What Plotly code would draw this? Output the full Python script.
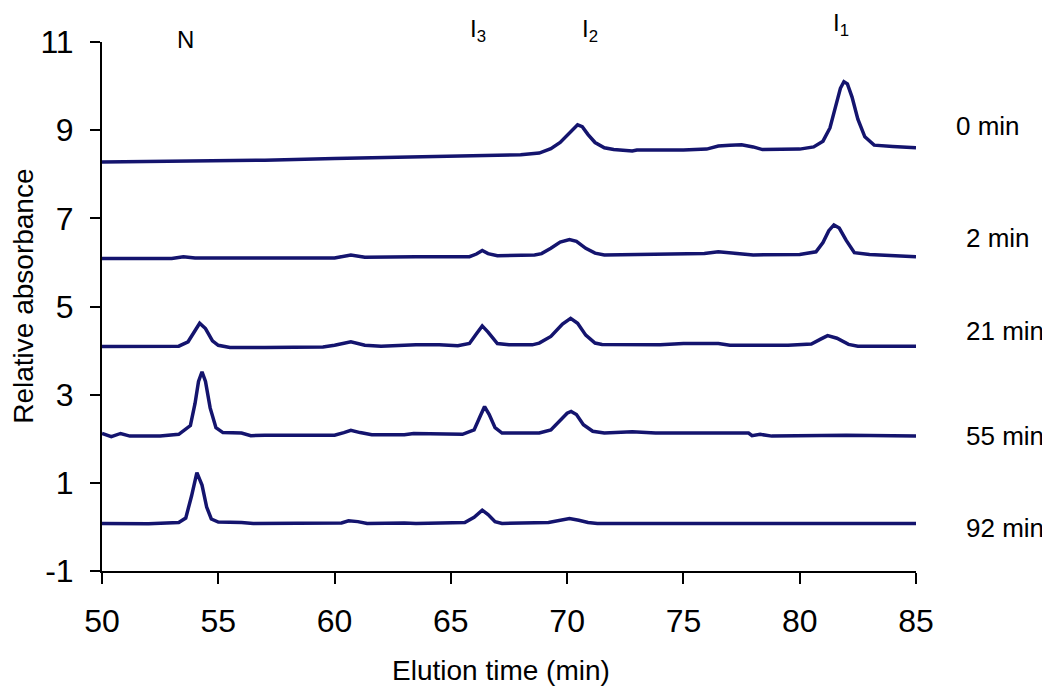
import plotly.graph_objects as go

# ---- data ----
t_0min = [50, 52.5, 55, 57, 60, 62.5, 65, 68, 68.8, 69.3, 69.7, 70.0, 70.25, 70.45, 70.65, 70.9, 71.2, 71.6,
          72.0, 72.5, 72.8, 73, 75, 76.0, 76.5, 77.0, 77.5, 78.0, 78.4, 80.0, 80.6, 81.0, 81.3, 81.55, 81.75,
          81.9, 82.05, 82.25, 82.5, 82.8, 83.2, 84, 85]
a_0min = [8.28, 8.29, 8.31, 8.32, 8.36, 8.38, 8.40, 8.44, 8.48, 8.58, 8.72, 8.88, 9.02, 9.12, 9.08, 8.90, 8.72, 8.60,
          8.56, 8.55, 8.53, 8.55, 8.55, 8.57, 8.64, 8.66, 8.67, 8.62, 8.56, 8.57, 8.62, 8.75, 9.05, 9.55, 9.95,
          10.10, 10.05, 9.75, 9.25, 8.85, 8.66, 8.63, 8.60]

t_2min = [50, 53.0, 53.5, 54.0, 55, 60.0, 60.7, 61.3, 63.5, 65.8, 66.1, 66.35, 66.6, 67.0, 68.6, 68.9, 69.3, 69.7,
          70.1, 70.4, 70.8, 71.2, 71.6, 75, 75.9, 76.5, 77.2, 78, 80.0, 80.7, 81.0, 81.25, 81.47, 81.7, 82.0,
          82.35, 83, 85]
a_2min = [6.09, 6.09, 6.13, 6.10, 6.10, 6.10, 6.17, 6.12, 6.13, 6.13, 6.19, 6.27, 6.20, 6.15, 6.17, 6.20, 6.32, 6.46,
          6.52, 6.48, 6.32, 6.21, 6.17, 6.18, 6.20, 6.24, 6.20, 6.17, 6.18, 6.24, 6.45, 6.72, 6.85, 6.78, 6.50,
          6.22, 6.18, 6.13]

t_21min = [50, 53.3, 53.7, 54.0, 54.2, 54.45, 54.75, 55.0, 55.5, 57, 58, 59.5, 60.0, 60.7, 61.3, 62, 63.5, 64.5,
           65.3, 65.8, 66.1, 66.35, 66.6, 67.0, 67.5, 68.5, 68.8, 69.3, 69.8, 70.15, 70.45, 70.8, 71.2, 71.5,
           74, 75, 76.5, 77, 79.5, 80.5, 80.9, 81.2, 81.6, 82.1, 82.5, 85]
a_21min = [4.09, 4.10, 4.20, 4.45, 4.62, 4.50, 4.22, 4.12, 4.07, 4.07, 4.08, 4.08, 4.12, 4.20, 4.12, 4.10, 4.13, 4.13,
           4.11, 4.16, 4.38, 4.56, 4.42, 4.16, 4.13, 4.13, 4.17, 4.32, 4.60, 4.73, 4.62, 4.35, 4.17, 4.14,
           4.13, 4.16, 4.16, 4.12, 4.12, 4.15, 4.26, 4.34, 4.28, 4.14, 4.10, 4.10]

t_55min = [50, 50.4, 50.8, 51.2, 52.5, 53.3, 53.8, 54.0, 54.15, 54.3, 54.45, 54.65, 54.9, 55.2, 56.0, 56.4, 57.0,
           60, 60.4, 60.7, 61.1, 61.6, 63, 63.4, 65.5, 66.0, 66.25, 66.45, 66.65, 66.9, 67.2, 68.8, 69.3, 69.7,
           70.0, 70.17, 70.4, 70.7, 71.1, 71.6, 72.8, 73.8, 77.8, 77.95, 78.3, 78.8, 80.8, 82.0, 85]
a_55min = [2.12, 2.05, 2.12, 2.06, 2.06, 2.10, 2.30, 2.80, 3.30, 3.52, 3.30, 2.70, 2.25, 2.14, 2.13, 2.07, 2.08,
           2.08, 2.14, 2.19, 2.14, 2.09, 2.09, 2.12, 2.10, 2.20, 2.50, 2.73, 2.55, 2.25, 2.13, 2.13, 2.20, 2.42,
           2.58, 2.62, 2.55, 2.32, 2.17, 2.13, 2.16, 2.13, 2.13, 2.07, 2.10, 2.06, 2.08, 2.08, 2.06]

t_92min = [50, 52, 53.3, 53.6, 53.85, 54.08, 54.3, 54.5, 54.7, 55, 56, 56.5, 60.3, 60.6, 61.0, 61.4, 63, 63.5, 65.6,
           66.0, 66.35, 66.6, 66.9, 67.2, 69.2, 69.6, 70.1, 70.5, 70.9, 71.3, 85]
a_92min = [0.08, 0.07, 0.10, 0.20, 0.70, 1.23, 0.95, 0.45, 0.18, 0.11, 0.10, 0.08, 0.09, 0.14, 0.12, 0.08, 0.09, 0.08, 0.10,
           0.22, 0.38, 0.28, 0.12, 0.08, 0.10, 0.14, 0.19, 0.15, 0.10, 0.08, 0.08]

series = [("0 min", t_0min, a_0min), ("2 min", t_2min, a_2min), ("21 min", t_21min, a_21min),
          ("55 min", t_55min, a_55min), ("92 min", t_92min, a_92min)]

series_labels = ["0 min", "2 min", "21 min", "55 min", "92 min"]
peak_labels = ["N", "I<sub>3</sub>", "I<sub>2</sub>", "I<sub>1</sub>"]

x_ticks = [50, 55, 60, 65, 70, 75, 80, 85]
y_ticks = [-1, 1, 3, 5, 7, 9, 11]

# label placement (paper coordinates)
label_px = [1.0467, 1.059, 1.059, 1.059, 1.059]
label_py = [0.841, 0.6295, 0.4537, 0.2552, 0.0813]
peak_px = [0.1026, 0.4619, 0.5989, 0.9079]
peak_py = [1.0047, 1.0225, 1.0225, 1.033]

FONT = "Liberation Sans, Arial, sans-serif"
LINE = "#14146e"

fig = go.Figure()
for name, t, a in series:
    fig.add_trace(go.Scatter(x=t, y=a, mode="lines", name=name,
                             line=dict(color=LINE, width=3.5), showlegend=False))

ann = []
for txt, x, y in zip(series_labels, label_px, label_py):
    ann.append(dict(text=txt, x=x, y=y, xref="paper", yref="paper", xanchor="left", yanchor="middle",
                    showarrow=False, font=dict(size=26, color="black", family=FONT)))
for txt, x, y in zip(peak_labels, peak_px, peak_py):
    ann.append(dict(text=txt, x=x, y=y, xref="paper", yref="paper", xanchor="center", yanchor="middle",
                    showarrow=False, font=dict(size=24, color="black", family=FONT)))
ann.append(dict(text="Elution time (min)", x=0.49, y=-0.189, xref="paper", yref="paper",
                xanchor="center", yanchor="middle", showarrow=False,
                font=dict(size=28, color="black", family=FONT)))
ann.append(dict(text="Relative absorbance", x=-0.096, y=0.52, xref="paper", yref="paper",
                xanchor="center", yanchor="middle", textangle=-90, showarrow=False,
                font=dict(size=28, color="black", family=FONT)))

fig.update_layout(
    width=1050, height=695,
    margin=dict(l=94, r=142, t=34, b=132),
    paper_bgcolor="white", plot_bgcolor="white",
    font=dict(family=FONT, color="black"),
    annotations=ann,
    xaxis=dict(range=[50, 85], tickvals=x_ticks, ticktext=[str(v) for v in x_ticks],
               showgrid=False, zeroline=False, showline=True, linecolor="black", linewidth=2,
               ticks="outside", ticklen=11, tickwidth=2, tickcolor="black",
               tickfont=dict(size=32, family=FONT, color="black"), ticklabelstandoff=10),
    yaxis=dict(range=[-1, 11], tickvals=y_ticks, ticktext=[str(v) for v in y_ticks],
               showgrid=False, zeroline=False, showline=True, linecolor="black", linewidth=2,
               ticks="outside", ticklen=10, tickwidth=2, tickcolor="black",
               tickfont=dict(size=32, family=FONT, color="black"), ticklabelstandoff=10),
)

fig.write_html("out.html")
